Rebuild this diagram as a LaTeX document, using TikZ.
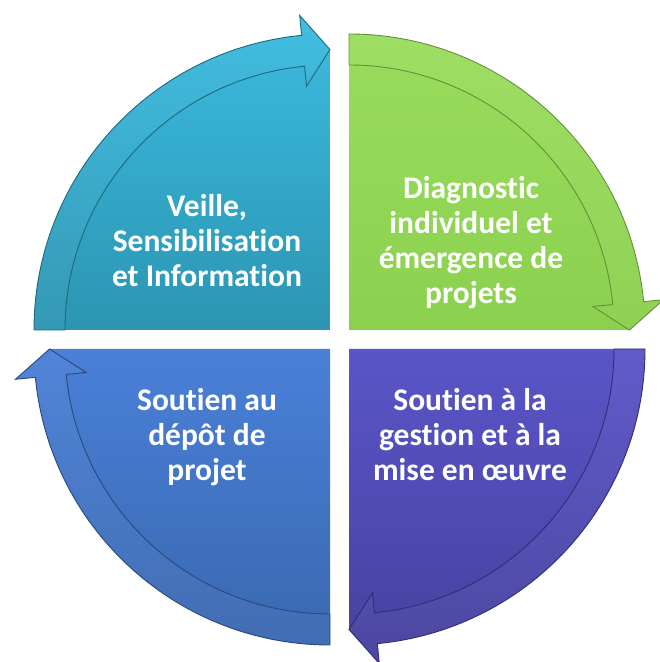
\documentclass[tikz,border=0pt]{standalone}
\usepackage{fontspec}
\setmainfont{Carlito}[Ligatures=NoCommon]
\definecolor{cyanTop}{HTML}{3BBCE0}
\definecolor{cyanBot}{HTML}{2C95B2}
\definecolor{greenTop}{HTML}{9ADD5E}
\definecolor{greenBot}{HTML}{8BD04F}
\definecolor{blueTop}{HTML}{4A80D8}
\definecolor{blueBot}{HTML}{3A68B0}
\definecolor{purpleTop}{HTML}{5A55C8}
\definecolor{purpleBot}{HTML}{46409E}
\begin{document}
\begin{tikzpicture}[x=1pt,y=1pt,
  label node/.style={font=\bfseries\fontsize{31.5}{35}\selectfont,text=white,align=center,inner sep=0pt},
  band/.style={draw=#1!70!black,line width=0.9pt,fill=white,fill opacity=0.04}]

  \useasboundingbox (0,0) rectangle (660,662);

  % top left
  \begin{scope}[shift={(330,332)}]
    \shade[top color=cyanTop,bottom color=cyanBot] (0,0) -- (180:296)
      arc[start angle=180,end angle=95.5,radius=296] -- (95.5:316) -- (90:280.5) -- cycle;
    \path[band=cyanBot] (180:265) -- (180:296)
      arc[start angle=180,end angle=95.5,radius=296] -- (95.5:316) -- (90:280.5)
      -- (95.5:245) -- (95.5:265) arc[start angle=95.5,end angle=180,radius=265] -- cycle;
  \end{scope}

  % top right
  \begin{scope}[shift={(349,332)}]
    \shade[top color=greenTop,bottom color=greenBot] (0,0) -- (90:296)
      arc[start angle=90,end angle=5.5,radius=296] -- (5.5:316) -- (0:280.5) -- cycle;
    \path[band=greenBot] (90:265) -- (90:296)
      arc[start angle=90,end angle=5.5,radius=296] -- (5.5:316) -- (0:280.5)
      -- (5.5:245) -- (5.5:265) arc[start angle=5.5,end angle=90,radius=265] -- cycle;
  \end{scope}

  % bottom right
  \begin{scope}[shift={(349,313)}]
    \shade[top color=purpleTop,bottom color=purpleBot] (0,0) -- (0:296)
      arc[start angle=0,end angle=-84.5,radius=296] -- (-84.5:316) -- (-90:280.5) -- cycle;
    \path[band=purpleBot] (0:265) -- (0:296)
      arc[start angle=0,end angle=-84.5,radius=296] -- (-84.5:316) -- (-90:280.5)
      -- (-84.5:245) -- (-84.5:265) arc[start angle=-84.5,end angle=0,radius=265] -- cycle;
  \end{scope}

  % bottom left
  \begin{scope}[shift={(330,313)}]
    \shade[top color=blueTop,bottom color=blueBot] (0,0) -- (-90:296)
      arc[start angle=-90,end angle=-174.5,radius=296] -- (-174.5:316) -- (-180:280.5) -- cycle;
    \path[band=blueBot] (-90:265) -- (-90:296)
      arc[start angle=-90,end angle=-174.5,radius=296] -- (-174.5:316) -- (-180:280.5)
      -- (-174.5:245) -- (-174.5:265) arc[start angle=-174.5,end angle=-90,radius=265] -- cycle;
  \end{scope}

  \node[label node] (veille) at (207,421) {Veille,\\Sensibilisation\\et Information};
  \node[label node] (diagnostic) at (471,419.5) {Diagnostic\\individuel et\\émergence de\\projets};
  \node[label node] (gestion) at (470,227.5) {Soutien à la\\gestion et à la\\mise en œuvre};
  \node[label node] (depot) at (207,224.5) {Soutien au\\dépôt de\\projet};
\end{tikzpicture}
\end{document}
